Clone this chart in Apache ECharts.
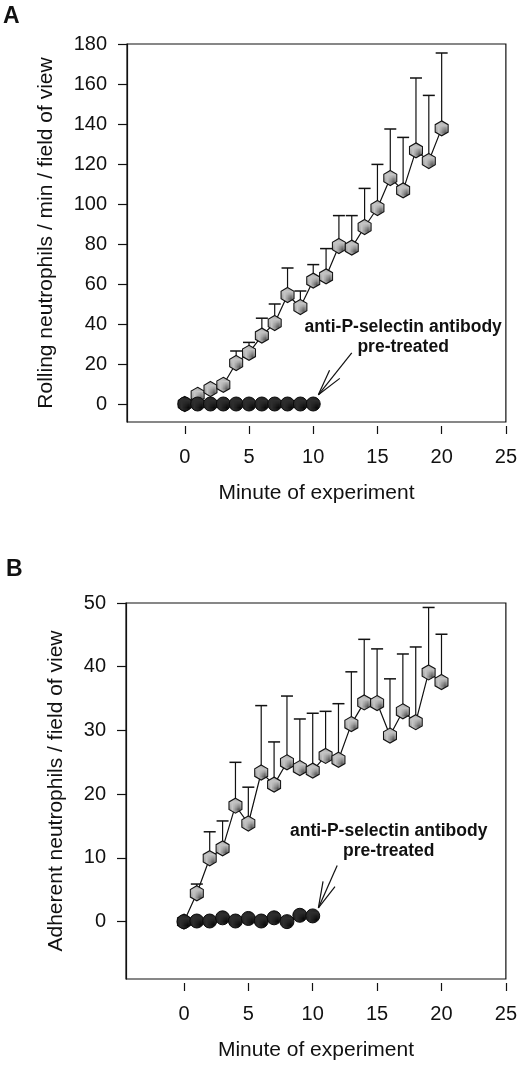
<!DOCTYPE html>
<html><head><meta charset="utf-8">
<script src="https://cdn.jsdelivr.net/npm/echarts@6/dist/echarts.min.js"></script>
<style>html,body{margin:0;padding:0;background:#fff}#c{width:520px;height:1071px}</style>
</head><body><div id="c"></div>
<script>
// ---- data ----
const minutes = [0,1,2,3,4,5,6,7,8,9,10,11,12,13,14,15,16,17,18,19,20];
const antiMinutes = [0,1,2,3,4,5,6,7,8,9,10];
// Panel A: rolling neutrophils / min / field of view
const rollingMean = [0,4.6,7.5,9.6,20.5,25.6,34.2,40.5,54.5,48.5,61.7,63.8,79,78.2,88.5,98,113,106.8,126.8,121.5,137.8];
const rollingSem  = [0,1,1.5,1.5,6,5.2,8.7,9.5,13.5,8,8,13.9,15.2,16,19.3,21.8,24.5,26.5,36.2,32.8,37.7];
const rollingAnti = [0,0,0,0,0,0,0,0,0,0,0];
// Panel B: adherent neutrophils / field of view
const adherentMean = [0,4.45,9.95,11.5,18.2,15.4,23.4,21.5,25.0,24.1,23.7,26.0,25.4,31.0,34.4,34.3,29.2,33.0,31.3,39.1,37.6];
const adherentSem  = [0,1.45,4.15,4.3,6.8,5.7,10.5,6.7,10.4,7.7,9.0,7.0,8.8,8.2,9.9,8.5,8.9,9.0,11.8,10.2,7.5];
const adherentAnti = [0,0.1,0.1,0.6,0.1,0.5,0.1,0.6,0,1.0,0.9];
// ticks
const xTicks = [0,5,10,15,20,25];
const yTicksA = [0,20,40,60,80,100,120,140,160,180];
const yTicksB = [0,10,20,30,40,50];
// annotation: [tailX, tailY, tipX, tipY, textX, textY]
const annotationText = 'anti-P-selectin antibody\npre-treated';
const annotA = [13.0, 25.6, 10.4, 4.6, 17.0, 33.6];
const annotB = [11.9, 8.8, 10.44, 2.15, 15.9, 12.56];

// ---- textures ----
function pattern(base, dot){
  const c = document.createElement('canvas'); c.width = 2; c.height = 2;
  const g = c.getContext('2d'); g.fillStyle = base; g.fillRect(0,0,2,2);
  g.fillStyle = dot; g.fillRect(0,0,1,1);
  return {image: c, repeat: 'repeat'};
}
const grayFill = pattern('#c4c4c4', '#5a5a5a');
const darkFill = pattern('#2e2e2e', '#0a0a0a');
const hexagon = 'path://M0,-1 L0.866,-0.5 L0.866,0.5 L0,1 L-0.866,0.5 L-0.866,-0.5 Z';
const FONT = 'Liberation Sans, Arial, sans-serif';
const INK = '#111';

function errRender(params, api){
  const x = api.value(0), m = api.value(1), e = api.value(2);
  if (!e) return null;
  const p0 = api.coord([x, m]), p1 = api.coord([x, m + e]);
  const hw = 6;
  return {type:'group', children:[
    {type:'line', shape:{x1:p0[0], y1:p0[1], x2:p1[0], y2:p1[1]}, style:{stroke:INK, lineWidth:1.2}},
    {type:'line', shape:{x1:p1[0]-hw, y1:p1[1], x2:p1[0]+hw, y2:p1[1]}, style:{stroke:INK, lineWidth:1.5}}
  ]};
}
function arrowRender(params, api){
  const t = api.coord([api.value(0), api.value(1)]);
  const h = api.coord([api.value(2), api.value(3)]);
  const tx = api.coord([api.value(4), api.value(5)]);
  const ang = Math.atan2(t[1]-h[1], t[0]-h[0]);
  const L = 27, da = 14*Math.PI/180;
  const a1 = [h[0] + L*Math.cos(ang-da), h[1] + L*Math.sin(ang-da)];
  const a2 = [h[0] + L*Math.cos(ang+da), h[1] + L*Math.sin(ang+da)];
  return {type:'group', children:[
    {type:'line', shape:{x1:t[0], y1:t[1], x2:h[0], y2:h[1]}, style:{stroke:INK, lineWidth:1.2}},
    {type:'line', shape:{x1:a1[0], y1:a1[1], x2:h[0], y2:h[1]}, style:{stroke:INK, lineWidth:1.2}},
    {type:'line', shape:{x1:a2[0], y1:a2[1], x2:h[0], y2:h[1]}, style:{stroke:INK, lineWidth:1.2}},
    {type:'text', x: tx[0], y: tx[1], style:{text: annotationText, fill: INK, font: 'bold 17.5px ' + FONT,
      align:'center', verticalAlign:'middle', lineHeight: 20}}
  ]};
}

function xAxisCfg(idx, gap){
  return {type:'value', gridIndex:idx, min:-4.5, max:25, offset:4,
    axisLine:{show:true, onZero:false, lineStyle:{color:'rgba(0,0,0,0)', width:0}},
    axisTick:{show:true, length:8, customValues:xTicks, lineStyle:{color:INK, width:1.2}},
    axisLabel:{customValues:xTicks, margin:21, fontSize:20, color:INK, fontFamily:FONT},
    splitLine:{show:false},
    name:'Minute of experiment', nameLocation:'middle', nameGap:gap,
    nameTextStyle:{fontSize:21, color:INK, fontFamily:FONT}};
}
function yAxisCfg(idx, max, ticks, name, gap){
  return {type:'value', gridIndex:idx, min:-9, max:max,
    axisLine:{show:true, onZero:false, lineStyle:{color:INK, width:1.2}},
    axisTick:{show:true, length:9, customValues:ticks, lineStyle:{color:INK, width:1.2}},
    axisLabel:{customValues:ticks, margin:20, fontSize:20, color:INK, fontFamily:FONT},
    splitLine:{show:false},
    name:name, nameLocation:'middle', nameGap:gap,
    nameTextStyle:{fontSize:21, color:INK, fontFamily:FONT}};
}
function grayLine(idx, ys){
  return {type:'line', xAxisIndex:idx, yAxisIndex:idx, z:3,
    data: minutes.map((m,i)=>[m, ys[i]]), symbol:hexagon, symbolSize:[13,15], showAllSymbol:true,
    lineStyle:{color:INK, width:1.2}, itemStyle:{color:grayFill, borderColor:INK, borderWidth:1.1}};
}
function darkLine(idx, ys){
  return {type:'line', xAxisIndex:idx, yAxisIndex:idx, z:4,
    data: antiMinutes.map((m,i)=>[m, ys[i]]), symbol:'circle', symbolSize:14, showAllSymbol:true,
    lineStyle:{color:INK, width:1.2}, itemStyle:{color:darkFill, borderColor:'#0a0a0a', borderWidth:1}};
}
function errSeries(idx, mean, sem){
  return {type:'custom', xAxisIndex:idx, yAxisIndex:idx, z:2, renderItem:errRender,
    data: minutes.map((m,i)=>[m, mean[i], sem[i]])};
}
function annotSeries(idx, a){
  return {type:'custom', xAxisIndex:idx, yAxisIndex:idx, z:5, renderItem:arrowRender, data:[a], clip:false};
}

const chart = echarts.init(document.getElementById('c'), null, {renderer:'canvas'});
chart.setOption({
  animation:false,
  backgroundColor:'#fff',
  textStyle:{fontFamily:FONT},
  graphic:[
    {type:'text', left:3, top:5, style:{text:'A', font:'bold 23px ' + FONT, fill:INK}},
    {type:'text', left:6, top:558, style:{text:'B', font:'bold 23px ' + FONT, fill:INK}}
  ],
  grid:[
    {left:127, top:44, width:380, height:378, show:true, borderColor:INK, borderWidth:1.2, backgroundColor:'transparent'},
    {left:126, top:603, width:381, height:376, show:true, borderColor:INK, borderWidth:1.2, backgroundColor:'transparent'}
  ],
  xAxis:[xAxisCfg(0, 57), xAxisCfg(1, 57)],
  yAxis:[
    yAxisCfg(0, 180, yTicksA, 'Rolling neutrophils / min / field of view', 70),
    yAxisCfg(1, 50, yTicksB, 'Adherent neutrophils / field of view', 59)
  ],
  series:[
    errSeries(0, rollingMean, rollingSem), grayLine(0, rollingMean), darkLine(0, rollingAnti), annotSeries(0, annotA),
    errSeries(1, adherentMean, adherentSem), grayLine(1, adherentMean), darkLine(1, adherentAnti), annotSeries(1, annotB)
  ]
});
</script></body></html>
